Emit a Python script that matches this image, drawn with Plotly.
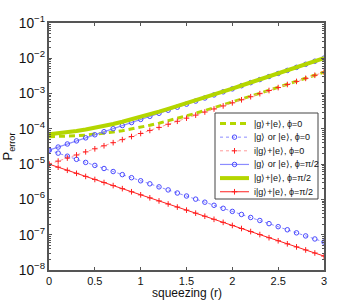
import plotly.graph_objects as go

r = [round(0.1 * i, 1) for i in range(31)]

# |g>+|e>, phi=0  (green dashed)
g_plus_e_phi0 = [6.0e-5, 6.07e-5, 6.20e-5, 6.39e-5, 6.66e-5, 7.02e-5, 7.50e-5, 8.11e-5, 8.88e-5, 9.87e-5,
                 1.109e-4, 1.263e-4, 1.449e-4, 1.689e-4, 1.969e-4, 2.329e-4, 2.76e-4, 3.30e-4, 3.951e-4, 4.753e-4,
                 5.734e-4, 6.936e-4, 8.408e-4, 1.020e-3, 1.244e-3, 1.504e-3, 1.833e-3, 2.232e-3, 2.722e-3, 3.321e-3,
                 4.05e-3]
# |g> or |e>, phi=0 (blue dotted, circles)
g_or_e_phi0 = [2.5e-5, 2.05e-5, 1.68e-5, 1.37e-5, 1.12e-5, 9.2e-6, 7.53e-6, 6.17e-6, 5.05e-6, 4.13e-6,
               3.38e-6, 2.77e-6, 2.27e-6, 1.86e-6, 1.52e-6, 1.25e-6, 1.02e-6, 8.35e-7, 6.83e-7, 5.6e-7,
               4.58e-7, 3.75e-7, 3.08e-7, 2.53e-7, 2.06e-7, 1.69e-7, 1.38e-7, 1.13e-7, 9.25e-8, 7.58e-8,
               6.2e-8]
# i|g>+|e>, phi=0 (red dotted, plus)
ig_plus_e_phi0 = [1.0e-5, 1.22e-5, 1.49e-5, 1.82e-5, 2.23e-5, 2.72e-5, 3.32e-5, 4.06e-5, 4.95e-5, 6.05e-5,
                  7.39e-5, 9.03e-5, 1.10e-4, 1.35e-4, 1.64e-4, 2.01e-4, 2.45e-4, 3.00e-4, 3.66e-4, 4.47e-4,
                  5.46e-4, 6.67e-4, 8.15e-4, 9.95e-4, 1.22e-3, 1.48e-3, 1.81e-3, 2.21e-3, 2.70e-3, 3.30e-3,
                  4.03e-3]
# |g> or |e>, phi=pi/2 (blue solid, circles)
g_or_e_phi90 = [2.5e-5, 3.05e-5, 3.73e-5, 4.56e-5, 5.56e-5, 6.8e-5, 8.3e-5, 1.01e-4, 1.24e-4, 1.51e-4,
                1.85e-4, 2.26e-4, 2.76e-4, 3.37e-4, 4.11e-4, 5.02e-4, 6.13e-4, 7.49e-4, 9.15e-4, 1.12e-3,
                1.36e-3, 1.67e-3, 2.04e-3, 2.49e-3, 3.04e-3, 3.71e-3, 4.53e-3, 5.54e-3, 6.76e-3, 8.26e-3,
                1.01e-2]
# |g>+|e>, phi=pi/2 (green solid)
g_plus_e_phi90 = [7.0e-5, 7.42e-5, 7.97e-5, 8.67e-5, 9.55e-5, 1.067e-4, 1.206e-4, 1.375e-4, 1.594e-4, 1.853e-4,
                  2.183e-4, 2.584e-4, 3.074e-4, 3.675e-4, 4.406e-4, 5.307e-4, 6.409e-4, 7.76e-4, 9.41e-4, 1.145e-3,
                  1.385e-3, 1.694e-3, 2.063e-3, 2.513e-3, 3.062e-3, 3.731e-3, 4.551e-3, 5.56e-3, 6.779e-3, 8.279e-3,
                  1.012e-2]
# i|g>+|e>, phi=pi/2 (red solid, plus)
ig_plus_e_phi90 = [1.0e-5, 8.19e-6, 6.70e-6, 5.49e-6, 4.49e-6, 3.68e-6, 3.01e-6, 2.47e-6, 2.02e-6, 1.65e-6,
                   1.35e-6, 1.11e-6, 9.07e-7, 7.43e-7, 6.08e-7, 4.98e-7, 4.08e-7, 3.34e-7, 2.73e-7, 2.24e-7,
                   1.83e-7, 1.50e-7, 1.23e-7, 1.01e-7, 8.23e-8, 6.74e-8, 5.52e-8, 4.52e-8, 3.70e-8, 3.03e-8,
                   2.48e-8]

x_ticks = [0, 0.5, 1, 1.5, 2, 2.5, 3]
x_tick_labels = ["0", "0.5", "1", "1.5", "2", "2.5", "3"]

names = ["|g\u27e9+|e\u27e9, \u03d5=0", "|g\u27e9 or |e\u27e9, \u03d5=0", "i|g\u27e9+|e\u27e9, \u03d5=0",
         "|g\u27e9 or |e\u27e9, \u03d5=\u03c0/2", "|g\u27e9+|e\u27e9, \u03d5=\u03c0/2", "i|g\u27e9+|e\u27e9, \u03d5=\u03c0/2"]

GREEN = "#b4d600"
BLUE = "#4a4aff"
BLUE_L = "#8c8cff"
RED = "#ff2020"
RED_L = "#ff9a9a"

circ = dict(symbol="circle-open", size=4.5, color=BLUE, line=dict(width=1))
plus = dict(symbol="cross-thin-open", size=4, color=RED, line=dict(width=1, color=RED))

styles = [
    dict(mode="lines", line=dict(color=GREEN, width=3, dash="6px,4px")),
    dict(mode="lines+markers", line=dict(color=BLUE_L, width=1, dash="dot"), marker=circ),
    dict(mode="lines+markers", line=dict(color=RED_L, width=1, dash="dot"), marker=plus),
    dict(mode="lines+markers", line=dict(color=BLUE_L, width=1.2), marker=circ),
    dict(mode="lines", line=dict(color=GREEN, width=4)),
    dict(mode="lines+markers", line=dict(color=RED, width=1), marker=plus),
]
series = [g_plus_e_phi0, g_or_e_phi0, ig_plus_e_phi0, g_or_e_phi90, g_plus_e_phi90, ig_plus_e_phi90]

fig = go.Figure()
for name, ys, st in zip(names, series, styles):
    fig.add_trace(go.Scatter(x=r, y=ys, name=name, showlegend=False, **st))

# ---- custom legend on a pixel-scaled overlay axis ----
LX0, LX1, LY0, LY1 = 215, 318, 113, 199
fig.add_trace(go.Scatter(x=[LX0, LX1, LX1, LX0, LX0], y=[LY0, LY0, LY1, LY1, LY0],
                         xaxis="x2", yaxis="y2", mode="lines", fill="toself", fillcolor="white",
                         line=dict(color="#444444", width=1), showlegend=False, hoverinfo="skip"))
row_y0, row_dy = 123.5, 13.65
for i, (name, st) in enumerate(zip(names, styles)):
    yy = row_y0 + i * row_dy
    fig.add_trace(go.Scatter(x=[220, 249], y=[yy, yy], xaxis="x2", yaxis="y2", mode="lines",
                             line=st["line"], showlegend=False, hoverinfo="skip"))
    if "marker" in st:
        fig.add_trace(go.Scatter(x=[234.5], y=[yy], xaxis="x2", yaxis="y2", mode="markers",
                                 marker=st["marker"], showlegend=False, hoverinfo="skip"))
    fig.add_annotation(x=251.5, y=yy, xref="x2", yref="y2", text=name, showarrow=False,
                       xanchor="left", yanchor="middle",
                       font=dict(family="Liberation Sans, Arial", size=9, color="#111111"))

fig.add_annotation(x=0.5, y=-0.093, xref="paper", yref="paper", text="squeezing (r)",
                   showarrow=False, xanchor="center", yanchor="middle",
                   font=dict(family="Liberation Sans, Arial", size=12, color="#111111"))

axis_common = dict(showline=True, linecolor="#555555", linewidth=1.5, mirror="allticks",
                   ticks="inside", ticklen=3, tickcolor="#555555", showgrid=False, zeroline=False,
                   tickfont=dict(family="Liberation Sans, Arial", size=11, color="#111111"))

fig.update_layout(
    width=358, height=305,
    margin=dict(l=49, r=34, t=23, b=35, autoexpand=False),
    paper_bgcolor="white", plot_bgcolor="white",
    font=dict(family="Liberation Sans, Arial", size=11, color="#111111"),
    showlegend=False,
    xaxis=dict(range=[0, 3], tickvals=x_ticks, ticktext=x_tick_labels, tickangle=0,
               **axis_common),
    yaxis=dict(type="log", range=[-8, -1], dtick=1, exponentformat="power",
               minor=dict(ticks="inside", ticklen=2, tickcolor="#555555", dtick="D1"),
               title=dict(text="P<sub>error</sub>", font=dict(size=13), standoff=6),
               **axis_common),
    xaxis2=dict(overlaying="x", range=[49, 324], visible=False, fixedrange=True),
    yaxis2=dict(overlaying="y", range=[270, 23], visible=False, fixedrange=True),
)

fig.write_html("out.html", config={"displayModeBar": False},
               post_script="document.body.style.margin='0px';")
